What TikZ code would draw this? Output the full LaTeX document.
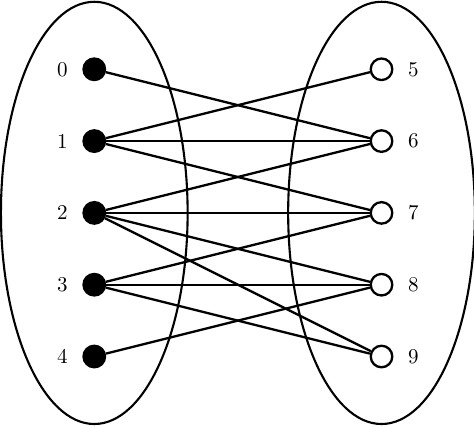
\documentclass[tikz,border=0pt]{standalone}
\usepackage{amsmath}
\usepackage{amssymb}
\usetikzlibrary{shapes,arrows,positioning}
\begin{document}
\begin{tikzpicture}[x=1.2cm,y=1.2cm,auto,>=latex',
    leftvertex/.style={circle,fill=black,draw=black,line width=1.1pt,minimum size=3.6mm,inner sep=0pt},
    rightvertex/.style={circle,fill=white,draw=black,line width=1.1pt,minimum size=3.6mm,inner sep=0pt}]
    \useasboundingbox (-1.313,0.965) rectangle (5.288,-4.968);

    % the two sides
    \draw[line width=1pt] (0,-2) ellipse (1.3 and 2.94);
    \draw[line width=1pt] (4,-2) ellipse (1.3 and 2.94);

    \foreach \i in {0,...,4} {
        \node (\i) [leftvertex] at (0,-\i) {};
        \node (l\i) [left=1.2mm of \i] {\i};
    }
    \foreach \i in {5,...,9} {
        \node (\i) [rightvertex] at (4,5-\i) {};
        \node (l\i) [right=1.2mm of \i] {\i};
    }

    % edges
    \foreach \a/\b in {0/6,1/5,1/6,1/7,2/6,2/7,2/8,2/9,3/7,3/8,3/9,4/8}
    \draw[line width=1.1pt] (\a) -- (\b);

\end{tikzpicture}
\end{document}
